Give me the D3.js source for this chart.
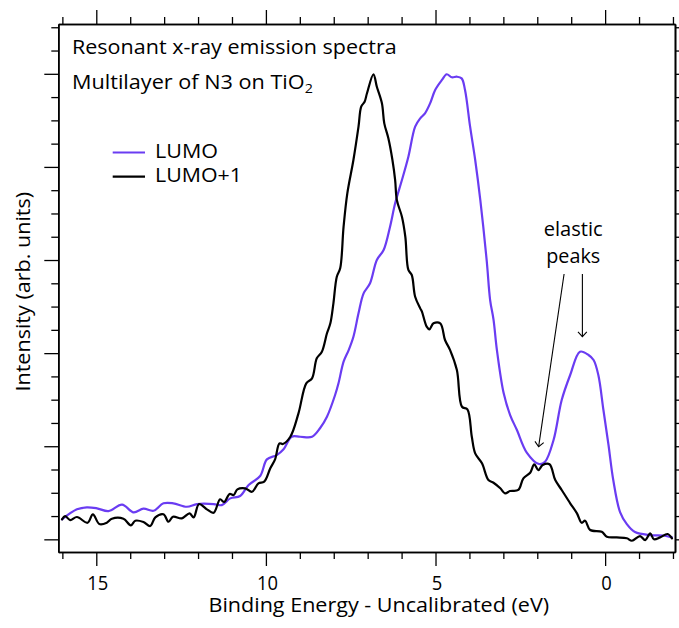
<!DOCTYPE html>
<html><head><meta charset="utf-8">
<script src="https://cdn.jsdelivr.net/npm/d3@7"></script>
<style>body{margin:0;background:#fff}svg{display:block}</style>
</head><body>
<svg id="chart" width="679" height="628"></svg>
<script>
// ---------------- DATA ----------------
const seriesNames = ["LUMO", "LUMO+1"];

const lumoEnergy = [16.01,15.57,15.28,14.98,14.64,14.24,13.90,13.61,13.31,13.02,12.73,12.33,12.03,11.54,11.30,11.05,10.76,10.51,10.17,9.97,9.68,9.48,9.24,8.99,8.64,8.40,8.20,7.96,7.86,7.71,7.56,7.42,7.27,7.12,6.93,6.73,6.53,6.34,6.19,5.99,5.80,5.60,5.45,5.31,5.16,5.01,4.81,4.67,4.52,4.37,4.23,4.13,3.98,3.83,3.68,3.49,3.39,3.29,3.19,2.99,2.80,2.60,2.31,1.95,1.77,1.52,1.28,1.03,0.74,0.49,0.34,0.20,0.05,-0.10,-0.24,-0.44,-0.64,-0.88,-1.33,-1.72,-1.97];
const lumoIntensity = [0.215,0.322,0.344,0.333,0.304,0.372,0.290,0.329,0.307,0.387,0.387,0.350,0.379,0.379,0.368,0.440,0.465,0.583,0.680,0.859,0.905,0.967,1.102,1.102,1.102,1.196,1.317,1.550,1.676,1.908,2.033,2.176,2.427,2.642,2.750,3.000,3.107,3.358,3.609,3.859,4.110,4.432,4.522,4.576,4.683,4.826,4.934,4.995,4.963,4.969,4.951,4.826,4.432,4.074,3.645,2.990,2.570,2.360,2.033,1.568,1.335,1.174,0.932,0.809,0.834,1.067,1.496,1.765,2.015,1.980,1.926,1.765,1.389,1.013,0.637,0.293,0.164,0.078,0.046,0.041,0.021];

const lumo1Energy = [16.01,15.92,15.77,15.57,15.26,15.10,14.91,14.69,14.54,14.20,13.98,13.85,13.61,13.41,13.26,13.02,12.87,12.74,12.48,12.25,12.13,11.97,11.74,11.54,11.35,11.23,11.07,10.95,10.84,10.61,10.41,10.22,10.05,9.87,9.73,9.60,9.50,9.28,9.04,8.81,8.64,8.50,8.35,8.20,8.10,8.01,7.91,7.81,7.71,7.60,7.42,7.27,7.19,7.09,7.02,6.83,6.73,6.58,6.51,6.39,6.27,6.19,6.14,5.99,5.89,5.80,5.70,5.60,5.45,5.40,5.26,5.18,5.06,4.86,4.72,4.57,4.37,4.22,4.06,3.93,3.83,3.63,3.44,3.29,3.09,2.95,2.80,2.56,2.41,2.21,2.09,1.97,1.84,1.64,1.47,1.28,1.03,0.83,0.69,0.59,0.44,0.10,-0.05,-0.34,-0.64,-0.79,-1.03,-1.18,-1.33,-1.44,-1.62,-1.84,-1.97];
const lumo1Intensity = [0.215,0.250,0.207,0.240,0.178,0.269,0.164,0.178,0.221,0.221,0.150,0.200,0.186,0.143,0.236,0.269,0.189,0.243,0.226,0.279,0.236,0.379,0.322,0.286,0.430,0.401,0.487,0.476,0.537,0.548,0.511,0.601,0.619,0.763,0.859,1.031,1.024,1.102,1.353,1.676,1.729,1.944,2.015,2.213,2.320,2.535,2.821,2.911,3.358,3.716,4.074,4.432,4.647,4.700,4.791,4.995,4.861,4.683,4.468,4.307,4.074,3.859,3.645,3.465,3.250,2.893,2.839,2.606,2.481,2.445,2.284,2.256,2.320,2.320,2.141,2.033,1.818,1.424,1.396,1.102,0.924,0.816,0.637,0.608,0.548,0.494,0.519,0.530,0.655,0.715,0.806,0.744,0.798,0.806,0.637,0.530,0.387,0.279,0.178,0.200,0.100,0.082,0.028,0.021,0.011,-0.015,0.035,-0.008,0.064,0.000,0.021,0.057,0.011];

const xMajorTicks = [15, 10, 5, 0];
const xTickLabels = ["15", "10", "5", "0"];
const xMinorTicks = [16,14,13,12,11,9,8,7,6,4,3,2,1,-1,-2];
const yMajorTicks = [0, 1, 2, 3, 4, 5];
const yMinorTicks = [0.25,0.5,0.75,1.25,1.5,1.75,2.25,2.5,2.75,3.25,3.5,3.75,4.25,4.5,4.75,5.25,5.5];

const titleLine1 = "Resonant x-ray emission spectra";
const titleLine2Main = "Multilayer of N3 on TiO";
const titleLine2Sub = "2";
const xAxisTitle = "Binding Energy - Uncalibrated (eV)";
const yAxisTitle = "Intensity (arb. units)";
const annotationLines = ["elastic", "peaks"];
// arrow endpoints in data units: [energy, intensity]
const arrowFrom = [[1.21, 2.85], [0.67, 2.85]];
const arrowTo = [[1.96, 0.995], [0.67, 2.176]];
const annotationAnchor = [0.94, 3.258, 2.965]; // energy, baseline intensities of the two lines

// ---------------- LAYOUT ----------------
const W = 679, H = 628;
const M = {left: 58.3, right: 4, top: 24, bottom: 76};
const FONT = "'Open Sans', 'Noto Sans', sans-serif";
const FS = 20;
const PURPLE = "#6a3cf2";
const colors = [PURPLE, "#000000"];

const svg = d3.select("#chart");
svg.append("rect").attr("width", W).attr("height", H).attr("fill", "#fff");

const x = d3.scaleLinear().domain([16.12, -2.06]).range([M.left, W - M.right]);
const y = d3.scaleLinear().domain([-0.136, 5.535]).range([H - M.bottom, M.top]);

// text helper: places text at (px,py), optionally rotated, squeezed horizontally to a target width
function label(parent, px, py, anchor, targetWidth, rot, build) {
  const g = parent.append("g").attr("transform", `translate(${px},${py})` + (rot ? ` rotate(${rot})` : ""));
  const t = g.append("text").attr("x", 0).attr("y", 0).attr("text-anchor", anchor)
    .attr("font-family", FONT).attr("font-size", FS).attr("fill", "#000");
  build(t);
  if (targetWidth) {
    const w = t.node().getBBox().width;
    t.attr("transform", `scale(${targetWidth / w},1)`);
  }
  return t;
}

function styleAxis(g) {
  g.select(".domain").attr("stroke", "#000").attr("stroke-width", 1.6);
  g.selectAll(".tick line").attr("stroke", "#000").attr("stroke-width", 1.3);
}

// bottom axis
const gb = svg.append("g").attr("transform", `translate(0,${H - M.bottom})`);
gb.append("g").call(d3.axisBottom(x).tickValues(xMinorTicks).tickSize(7).tickSizeOuter(0).tickFormat("")).call(styleAxis);
const gbm = gb.append("g").call(d3.axisBottom(x).tickValues(xMajorTicks).tickSize(14).tickSizeOuter(0).tickFormat((d, i) => xTickLabels[i]));
gbm.call(styleAxis);
gbm.selectAll(".tick text").attr("y", 0).attr("dy", 0)
  .attr("transform", "translate(1,37.5) scale(0.92,1)")
  .attr("font-size", FS).attr("font-family", FONT).attr("fill", "#000");

// top axis
const gt = svg.append("g").attr("transform", `translate(0,${M.top})`);
gt.append("g").call(d3.axisTop(x).tickValues(xMinorTicks).tickSize(7).tickSizeOuter(0).tickFormat("")).call(styleAxis);
gt.append("g").call(d3.axisTop(x).tickValues(xMajorTicks).tickSize(14).tickSizeOuter(0).tickFormat("")).call(styleAxis);

// left axis
const gl = svg.append("g").attr("transform", `translate(${M.left},0)`);
gl.append("g").call(d3.axisLeft(y).tickValues(yMinorTicks).tickSize(7).tickSizeOuter(0).tickFormat("")).call(styleAxis);
gl.append("g").call(d3.axisLeft(y).tickValues(yMajorTicks).tickSize(14).tickSizeOuter(0).tickFormat("")).call(styleAxis);

// right axis
const gr = svg.append("g").attr("transform", `translate(${W - M.right},0)`);
gr.append("g").call(d3.axisRight(y).tickValues(yMinorTicks).tickSize(7).tickSizeOuter(0).tickFormat("")).call(styleAxis);
gr.append("g").call(d3.axisRight(y).tickValues(yMajorTicks).tickSize(14).tickSizeOuter(0).tickFormat("")).call(styleAxis);

// series
const series = [
  lumoEnergy.map((e, i) => ({e, v: lumoIntensity[i]})),
  lumo1Energy.map((e, i) => ({e, v: lumo1Intensity[i]}))
];
const line = d3.line().x(d => x(d.e)).y(d => y(d.v)).curve(d3.curveCatmullRom.alpha(0.5));
svg.append("g").selectAll("path").data(series).join("path")
  .attr("d", line).attr("fill", "none")
  .attr("stroke", (d, i) => colors[i]).attr("stroke-width", 2.2)
  .attr("stroke-linejoin", "round").attr("stroke-linecap", "round");

// title text
label(svg, 72, 53.5, "start", 325, 0, t => t.text(titleLine1));
label(svg, 72, 89, "start", 241, 0, t => {
  t.append("tspan").text(titleLine2Main);
  t.append("tspan").attr("font-size", FS * 0.66).attr("dy", 4).text(titleLine2Sub);
});

// legend
const legY = [152.5, 176.7];
const legW = [63, 87];
const lg = svg.append("g");
seriesNames.forEach((name, i) => {
  lg.append("line").attr("x1", 112.7).attr("x2", 145).attr("y1", legY[i]).attr("y2", legY[i])
    .attr("stroke", colors[i]).attr("stroke-width", 2.2);
  label(lg, 155, legY[i] + 5.5, "start", legW[i], 0, t => t.text(name));
});

// axis titles
label(svg, 378.8, 612, "middle", 341, 0, t => t.text(xAxisTitle));
label(svg, 30, 291.7, "middle", 200, -90, t => t.text(yAxisTitle));

// annotation
label(svg, x(annotationAnchor[0]), y(annotationAnchor[1]), "middle", 59, 0, t => t.text(annotationLines[0]));
label(svg, x(annotationAnchor[0]), y(annotationAnchor[2]), "middle", 54, 0, t => t.text(annotationLines[1]));

// arrows
const ag = svg.append("g").attr("stroke", "#000").attr("fill", "none").attr("stroke-width", 1.1);
arrowFrom.forEach((f, i) => {
  const x1 = x(f[0]), y1 = y(f[1]), x2 = x(arrowTo[i][0]), y2 = y(arrowTo[i][1]);
  ag.append("line").attr("x1", x1).attr("y1", y1).attr("x2", x2).attr("y2", y2);
  const ang = Math.atan2(y2 - y1, x2 - x1);
  const L = 6.5, spread = Math.PI / 4.2;
  const p1 = [x2 - L * Math.cos(ang - spread), y2 - L * Math.sin(ang - spread)];
  const p2 = [x2 - L * Math.cos(ang + spread), y2 - L * Math.sin(ang + spread)];
  ag.append("path").attr("d", `M${p1[0]},${p1[1]}L${x2},${y2}L${p2[0]},${p2[1]}`);
});
</script>
</body></html>
